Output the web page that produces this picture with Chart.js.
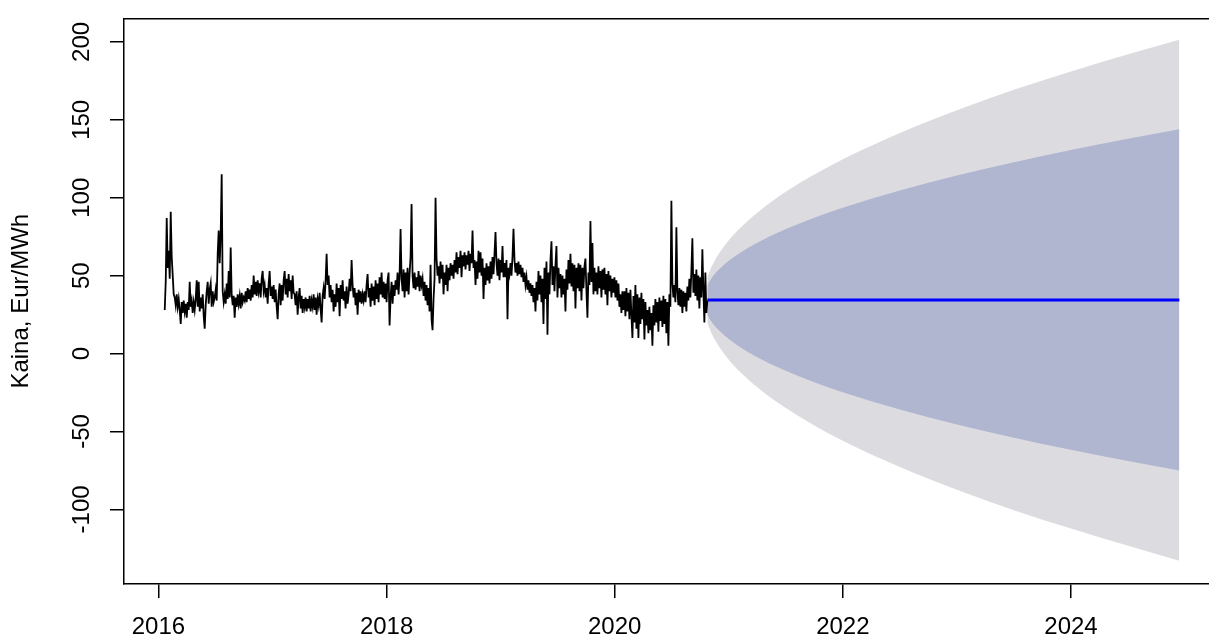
<!DOCTYPE html>
<html>
<head>
<meta charset="utf-8">
<script src="https://cdn.jsdelivr.net/npm/chart.js@4.4.1/dist/chart.umd.min.js"></script>
<style>
html,body{margin:0;padding:0;background:#ffffff;overflow:hidden;}
canvas{display:block;}
</style>
</head>
<body>
<canvas id="c" width="1209" height="640"></canvas>
<script>
// ---- Data ----
const startYear = 2016.055;   // first observation
const stepDays = 3.2;         // spacing between the plotted observations
const priceValues = [
28,46,87,55,66,48,91,62,50,38,
36,31,38,30,35,28,19,33,26,34,
27,32,23,33,28,46,30,34,26,33,
28,35,47,30,46,27,36,29,38,24,
16,31,40,46,32,41,45,30,40,33,
36,41,34,64,79,58,77,115,40,33,
38,32,45,35,53,36,68,38,31,37,
23,36,30,38,32,37,29,39,33,36,
34,40,33,42,35,41,34,44,36,50,
38,46,37,47,40,45,36,48,53,40,
44,36,42,32,45,53,37,43,35,44,
33,41,30,22,38,45,31,44,34,47,
53,38,48,36,51,40,47,35,50,39,
38,31,40,25,36,42,29,37,26,35,
30,36,27,35,29,37,27,34,30,38,
28,36,25,35,31,39,29,20,37,42,
35,47,64,44,50,36,44,33,41,27,
38,30,45,33,42,24,44,35,47,34,
40,29,43,32,38,48,40,60,44,36,
42,31,39,25,41,33,40,32,38,34,
40,33,44,51,36,42,30,45,34,43,
31,47,35,45,33,49,38,52,36,46,
35,45,33,47,52,18,36,46,32,44,
37,47,41,52,38,50,80,48,40,54,
36,52,40,55,38,51,62,96,50,42,
52,41,49,43,53,40,50,44,48,37,
46,34,44,31,42,27,57,22,15,35,
48,100,61,50,56,45,59,48,57,38,
52,44,57,40,55,47,58,50,57,48,
60,52,65,51,62,55,66,49,63,56,
65,54,63,57,66,53,64,58,79,55,
60,44,59,48,66,52,65,50,61,35,
55,44,58,47,56,45,59,48,62,51,
64,78,58,50,61,47,60,52,69,49,
58,49,60,22,55,51,58,50,62,80,
60,52,58,50,59,51,57,49,55,46,
52,44,49,41,47,39,45,37,44,33,
42,27,46,34,53,38,50,33,48,19,
55,35,59,12,52,38,60,72,44,56,
40,57,69,36,55,42,51,36,50,38,
48,27,54,41,60,45,64,43,58,40,
57,29,55,42,58,40,57,34,55,42,
56,61,40,23,52,44,85,46,71,38,
55,40,52,38,56,42,53,36,54,41,
55,38,51,31,53,40,50,36,48,39,
49,36,47,34,45,30,38,26,40,28,
40,24,42,27,39,22,41,25,10,37,
20,44,16,38,10,36,19,39,22,35,
9,33,18,28,13,30,15,26,5,31,
18,35,20,33,14,36,21,34,17,37,
19,35,13,33,5,38,30,98,45,36,
44,33,81,40,31,42,30,41,26,40,
30,39,27,43,34,48,36,53,74,39,
51,37,54,34,50,29,49,36,67,41,
20,52,26,34
];

const fcYears   = [2020.812,2020.83,2020.85,2020.88,2020.92,2021.0,2021.1,2021.25,2021.5,2021.75,2022.0,2022.5,2023.0,2023.5,2024.0,2024.5,2024.95];
const fcMean    = [34.4,34.4,34.4,34.4,34.4,34.4,34.4,34.4,34.4,34.4,34.4,34.4,34.4,34.4,34.4,34.4,34.4];
const fcUpper95 = [48.8,52.5,55.9,60.1,64.9,72.7,80.6,90.4,103.8,114.9,124.7,141.6,156.2,169.3,181.1,192.1,201.4];
const fcLower95 = [20.0,16.3,12.9,8.7,3.9,-3.9,-11.8,-21.6,-35.0,-46.1,-55.9,-72.8,-87.4,-100.5,-112.3,-123.3,-133.0];
const fcUpper80 = [43.8,46.3,48.5,51.3,54.4,59.5,64.7,71.1,79.9,87.2,93.6,104.7,114.3,122.8,130.6,137.8,143.9];
const fcLower80 = [25.0,22.5,20.3,17.5,14.4,9.3,4.1,-2.3,-11.1,-18.4,-24.8,-35.9,-45.5,-54.0,-61.8,-69.0,-75.1];

const xTickValues = [2016, 2018, 2020, 2022, 2024];
const yTickValues = [-100, -50, 0, 50, 100, 150, 200];
const yAxisTitle = 'Kaina, Eur/MWh';

// ---- Build datasets ----
const historyPoints = priceValues.map((v, i) => ({ x: startYear + i * stepDays / 365.25, y: v }));
const fcPoints = arr => fcYears.map((t, i) => ({ x: t, y: arr[i] }));

const FONT = '"Liberation Sans", Arial, Helvetica, sans-serif';
const xMin = 2015.698, xMax = 2025.21;
const yMin = -147.9, yMax = 215.1;
const darkShade = 'rgb(176,181,208)';
const lightShade = 'rgb(219,219,224)';

new Chart(document.getElementById('c').getContext('2d'), {
  type: 'line',
  data: {
    datasets: [
      { data: historyPoints, borderColor: '#000000', borderWidth: 1.8, pointRadius: 0, fill: false, tension: 0, borderJoinStyle: 'miter', order: 0 },
      { data: fcPoints(fcMean), borderColor: '#0000ff', borderWidth: 3, pointRadius: 0, fill: false, order: 1 },
      { data: fcPoints(fcUpper80), borderWidth: 0, borderColor: 'rgba(0,0,0,0)', pointRadius: 0, backgroundColor: darkShade, fill: '+1', cubicInterpolationMode: 'monotone', order: 2 },
      { data: fcPoints(fcLower80), borderWidth: 0, borderColor: 'rgba(0,0,0,0)', pointRadius: 0, fill: false, cubicInterpolationMode: 'monotone', order: 3 },
      { data: fcPoints(fcUpper95), borderWidth: 0, borderColor: 'rgba(0,0,0,0)', pointRadius: 0, backgroundColor: lightShade, fill: '+1', cubicInterpolationMode: 'monotone', order: 4 },
      { data: fcPoints(fcLower95), borderWidth: 0, borderColor: 'rgba(0,0,0,0)', pointRadius: 0, fill: false, cubicInterpolationMode: 'monotone', order: 5 }
    ]
  },
  options: {
    responsive: false,
    animation: false,
    devicePixelRatio: 1,
    layout: { padding: { top: 17, left: 0, right: 0, bottom: 0 } },
    plugins: { legend: { display: false }, tooltip: { enabled: false } },
    elements: { line: { borderCapStyle: 'butt' } },
    scales: {
      x: {
        type: 'linear', position: 'bottom', min: xMin, max: xMax,
        afterBuildTicks: s => { s.ticks = xTickValues.map(v => ({ value: v })); },
        afterFit: s => { s.height = 56; },
        grid: { display: true, drawOnChartArea: false, drawTicks: true, tickLength: 14, color: '#000', tickColor: '#000', lineWidth: 1.5 },
        border: { display: true, color: '#000', width: 1.5 },
        ticks: { color: '#000', font: { family: FONT, size: 24 }, padding: 15, maxRotation: 0, minRotation: 0, autoSkip: false, callback: v => String(v) }
      },
      xTop: {
        type: 'linear', position: 'top', min: xMin, max: xMax,
        afterFit: s => { s.height = 0; },
        grid: { display: false, drawOnChartArea: false, drawTicks: false },
        border: { display: true, color: '#000', width: 1.5 },
        ticks: { display: false }
      },
      y: {
        type: 'linear', position: 'left', min: yMin, max: yMax,
        afterBuildTicks: s => { s.ticks = yTickValues.map(v => ({ value: v })); },
        afterFit: s => { s.width = 124; },
        grid: { display: true, drawOnChartArea: false, drawTicks: true, tickLength: 14, color: '#000', tickColor: '#000', lineWidth: 1.5 },
        border: { display: true, color: '#000', width: 1.5 },
        ticks: { color: '#000', font: { family: FONT, size: 24 }, padding: 4, minRotation: 90, maxRotation: 90, crossAlign: 'center', autoSkip: false, callback: v => String(v) },
        title: { display: true, text: yAxisTitle, color: '#000', font: { family: FONT, size: 24 }, padding: { top: 7, bottom: 0 } }
      }
    }
  }
});
</script>
</body>
</html>
